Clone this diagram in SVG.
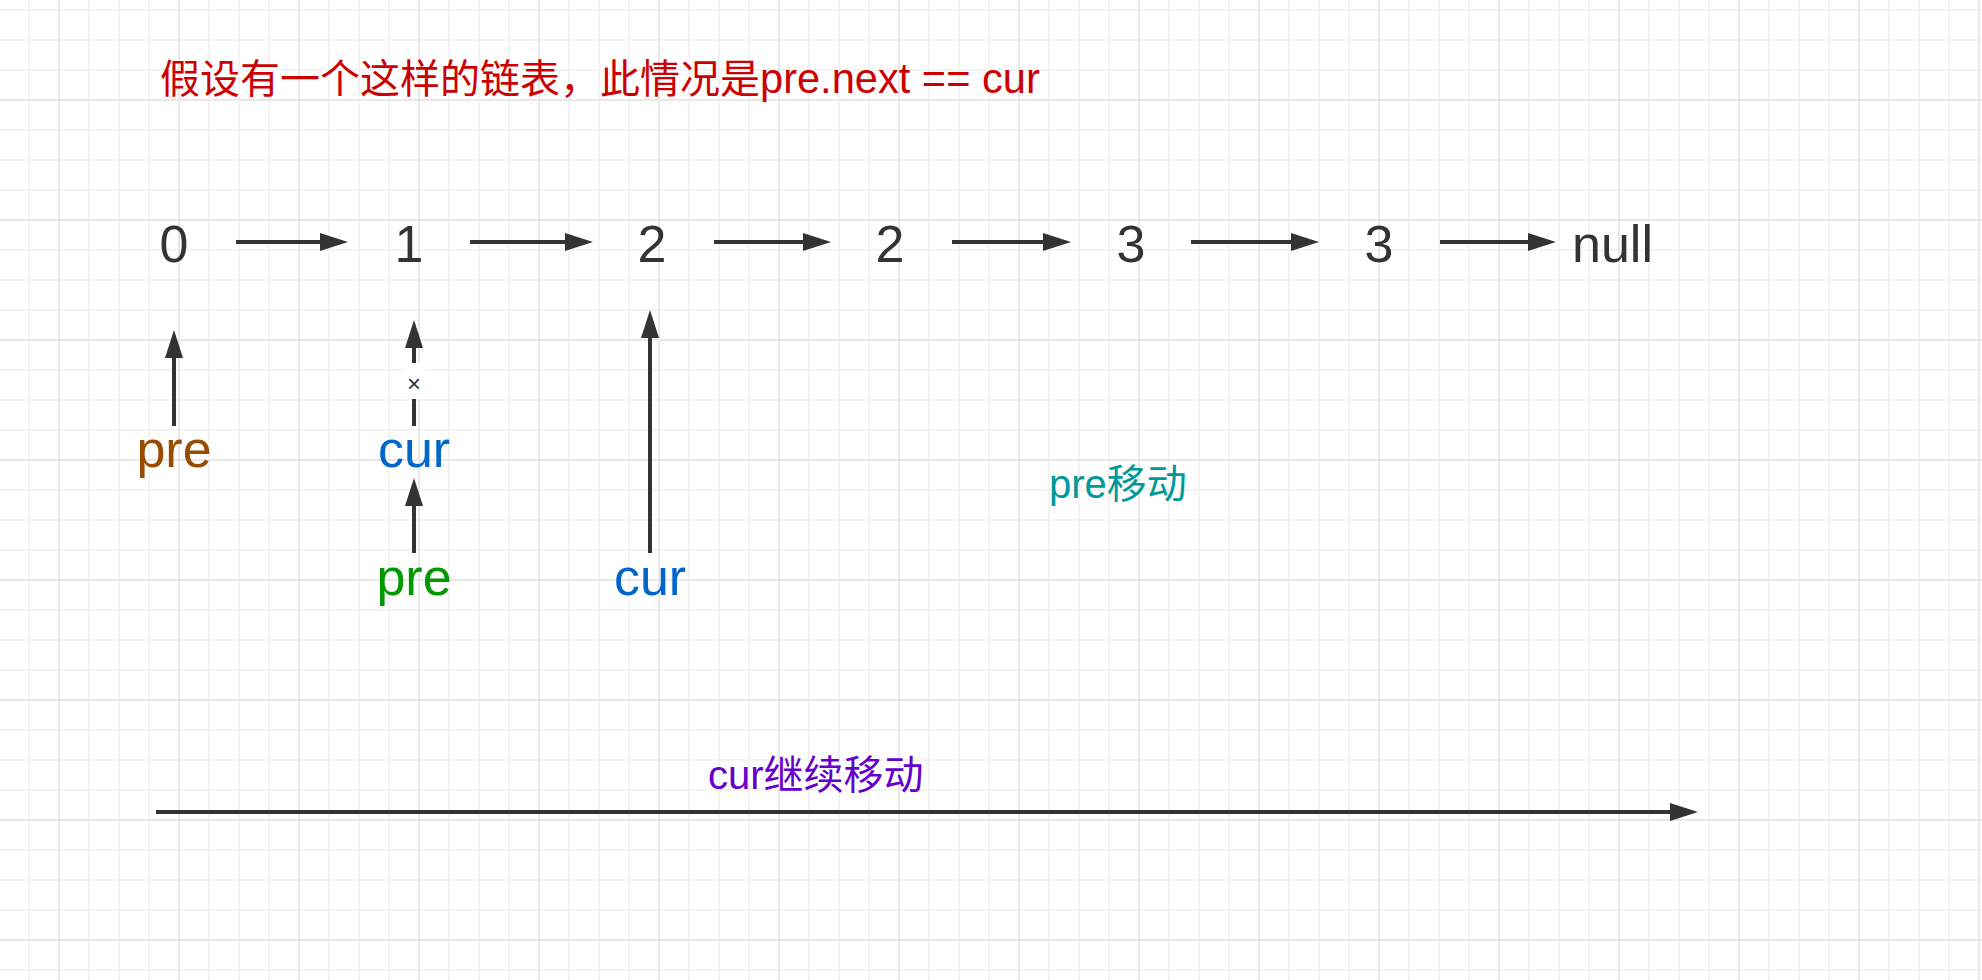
<svg xmlns="http://www.w3.org/2000/svg" width="1982" height="980" viewBox="0 0 1982 980">
  <style>
    .t { font-family: "Liberation Sans", "Noto Sans CJK SC", sans-serif; }
    .big { font-size: 52px; }
    .mid { font-size: 40px; }
    .num { fill: #333333; }
    .edge { stroke: #333333; stroke-width: 4; fill: none; }
  </style>
  <defs>
    <pattern id="grid" patternUnits="userSpaceOnUse" x="58" y="99" width="120" height="120">
      <rect x="0" y="0" width="120" height="120" fill="#ffffff"/>
      <g fill="#f4f4f4">
        <rect x="30" y="0" width="2" height="120"/>
        <rect x="60" y="0" width="2" height="120"/>
        <rect x="90" y="0" width="2" height="120"/>
        <rect x="0" y="30" width="120" height="2"/>
        <rect x="0" y="60" width="120" height="2"/>
        <rect x="0" y="90" width="120" height="2"/>
      </g>
      <g fill="#e8e8e8">
        <rect x="0" y="0" width="2" height="120"/>
        <rect x="0" y="0" width="120" height="2"/>
      </g>
    </pattern>
    <marker id="arrow" markerUnits="userSpaceOnUse" viewBox="0 0 28 18" markerWidth="28" markerHeight="18" refX="0" refY="9" orient="auto">
      <path d="M0,0 L28,9 L0,18 z" fill="#333333"/>
    </marker>
  </defs>

  <rect id="background" x="0" y="0" width="1982" height="980" fill="url(#grid)"/>

  <g id="title">
    <text class="t mid" x="160" y="93" fill="#CC0000">假设有一个这样的链表，此情况是<tspan font-size="41.6">pre.next == cur</tspan></text>
  </g>

  <g id="node-0"><text class="t big num" x="174" y="262" text-anchor="middle">0</text></g>
  <g id="node-1"><text class="t big num" x="409" y="262" text-anchor="middle">1</text></g>
  <g id="node-2a"><text class="t big num" x="652" y="262" text-anchor="middle">2</text></g>
  <g id="node-2b"><text class="t big num" x="890" y="262" text-anchor="middle">2</text></g>
  <g id="node-3a"><text class="t big num" x="1131" y="262" text-anchor="middle">3</text></g>
  <g id="node-3b"><text class="t big num" x="1379" y="262" text-anchor="middle">3</text></g>
  <g id="node-null"><text class="t big num" x="1572" y="262">null</text></g>

  <g id="label-pre-brown"><text class="t big" x="174" y="467" text-anchor="middle" fill="#994C00">pre</text></g>
  <g id="label-cur-1"><text class="t big" x="414" y="467" text-anchor="middle" fill="#0066CC">cur</text></g>
  <g id="label-pre-green"><text class="t big" x="414" y="595" text-anchor="middle" fill="#009900">pre</text></g>
  <g id="label-cur-2"><text class="t big" x="650" y="595" text-anchor="middle" fill="#0066CC">cur</text></g>
  <g id="label-pre-move"><text class="t mid" x="1049" y="498" fill="#009999">pre移动</text></g>
  <g id="label-cur-move"><text class="t mid" x="708" y="789" fill="#6600CC">cur继续移动</text></g>

  <g id="connectors">
    <line class="edge" x1="236" y1="242" x2="320" y2="242" marker-end="url(#arrow)"/>
    <line class="edge" x1="470" y1="242" x2="565" y2="242" marker-end="url(#arrow)"/>
    <line class="edge" x1="714" y1="242" x2="803" y2="242" marker-end="url(#arrow)"/>
    <line class="edge" x1="952" y1="242" x2="1043" y2="242" marker-end="url(#arrow)"/>
    <line class="edge" x1="1191" y1="242" x2="1291" y2="242" marker-end="url(#arrow)"/>
    <line class="edge" x1="1440" y1="242" x2="1528" y2="242" marker-end="url(#arrow)"/>

    <line class="edge" x1="174" y1="426" x2="174" y2="358" marker-end="url(#arrow)"/>
    <line class="edge" x1="414" y1="426" x2="414" y2="348" marker-end="url(#arrow)"/>
    <line class="edge" x1="414" y1="553" x2="414" y2="506" marker-end="url(#arrow)"/>
    <line class="edge" x1="650" y1="553" x2="650" y2="338" marker-end="url(#arrow)"/>

    <line class="edge" x1="156" y1="812" x2="1670" y2="812" marker-end="url(#arrow)"/>

    <g id="edge-label-x">
      <rect x="403" y="363" width="22" height="36" fill="#ffffff"/>
      <text class="t" x="414" y="392" text-anchor="middle" font-size="24" fill="#333333">×</text>
    </g>
  </g>
</svg>
